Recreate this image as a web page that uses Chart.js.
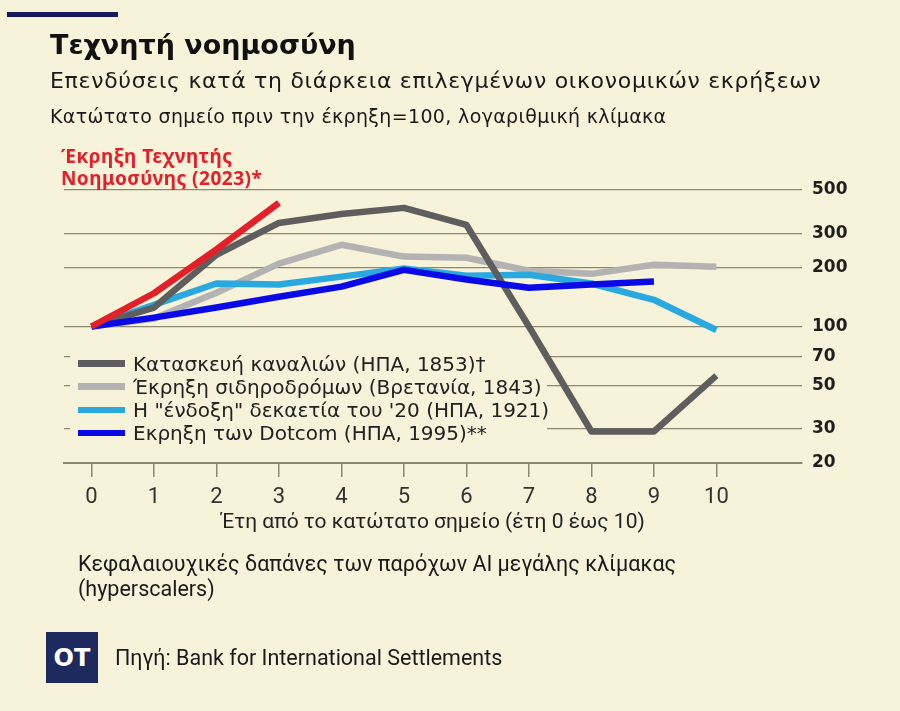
<!DOCTYPE html>
<html><head><meta charset="utf-8">
<script src="https://cdn.jsdelivr.net/npm/chart.js@4.4.1/dist/chart.umd.min.js"></script>
<style>
html,body{margin:0;padding:0;background:#f6f3da;}
#wrap{position:relative;width:900px;height:711px;overflow:hidden;background:#f6f3da;}
#c{position:absolute;left:0;top:0;}
.t{position:absolute;white-space:nowrap;line-height:1;margin:0;}
#bar{position:absolute;left:7px;top:12px;width:111px;height:5px;background:#16195c;}
#title{left:50px;top:29px;font:bold 27px "DejaVu Sans";color:#111;}
#sub{left:50px;top:68px;font:22px "DejaVu Sans";letter-spacing:0.7px;color:#1a1a1a;}
#sub2{left:50px;top:105px;font:19px "DejaVu Sans";letter-spacing:0.35px;color:#1a1a1a;}
#ai{left:61px;top:145px;font:bold 19px "Noto Sans";letter-spacing:0.5px;color:#e3202a;line-height:22px;}
#legend{position:absolute;left:70px;top:346px;width:477px;height:100px;}
.row{position:absolute;left:0;height:23px;width:477px;}
.sw{position:absolute;left:8px;top:8.5px;width:47px;height:6.5px;}
.lt{position:absolute;left:63px;top:0;line-height:23px;font:20px "DejaVu Sans";color:#222;white-space:nowrap;}
#foot{left:78px;top:551px;font:21.5px Roboto;color:#1a1a1a;line-height:25px;}
#logo{position:absolute;left:46px;top:632px;width:52px;height:51px;background:#1d2a5e;color:#fff;font:bold 24px "DejaVu Sans";display:flex;align-items:center;justify-content:center;}
#src{left:115px;top:645px;font:21.5px Roboto;color:#1a1a1a;}
</style>
</head>
<body>
<div id="wrap">
  <canvas id="c" width="900" height="711"></canvas>
  <div id="bar"></div>
  <div class="t" id="title">Τεχνητή νοημοσύνη</div>
  <div class="t" id="sub">Επενδύσεις κατά τη διάρκεια επιλεγμένων οικονομικών εκρήξεων</div>
  <div class="t" id="sub2">Κατώτατο σημείο πριν την έκρηξη=100, λογαριθμική κλίμακα</div>
  <div class="t" id="ai">Έκρηξη Τεχνητής<br>Νοημοσύνης (2023)*</div>
  <div id="legend"></div>
  <div class="t" id="foot">Κεφαλαιουχικές δαπάνες των παρόχων AI μεγάλης κλίμακας<br>(hyperscalers)</div>
  <div id="logo">OT</div>
  <div class="t" id="src">Πηγή: Bank for International Settlements</div>
</div>
<script>
// ---- data ----
const years = [0, 1, 2, 3, 4, 5, 6, 7, 8, 9, 10];
const aiBoom     = [100, 148, 248, 430];
const canals     = [100, 125, 233, 339, 377, 405, 331, 100, 29, 29, 56];
const railways   = [100, 110, 149, 210, 262, 228, 225, 193, 186, 207, 202];
const roaring20s = [100, 129, 166, 164, 180, 198, 182, 184, 166, 137, 96];
const dotcom     = [100, 111, 125, 142, 160, 195, 174, 158, 164, 170];
const yTicks = [20, 30, 50, 70, 100, 200, 300, 500];
const xTicks = years;
const aiLabel = 'Έκρηξη Τεχνητής Νοημοσύνης (2023)*';
const seriesNames = [
  'Κατασκευή καναλιών (ΗΠΑ, 1853)†',
  'Έκρηξη σιδηροδρόμων (Βρετανία, 1843)',
  'Η "ένδοξη" δεκαετία του \'20 (ΗΠΑ, 1921)',
  'Εκρηξη των Dotcom (ΗΠΑ, 1995)**'
];
const xTitle = 'Έτη από το κατώτατο σημείο (έτη 0 έως 10)';

// ---- styles ----
const seriesColors = ['#5e5e5e', '#b3b3b3', '#2aa9e0', '#0a0ae6'];
const aiColor = '#e3202a';
const gridColor = '#8c8970';
const bgColor = '#f6f3da';

const pts = vals => vals.map((v, i) => ({x: years[i], y: v}));
const lineStyle = {borderWidth: 6.5, pointRadius: 0, tension: 0, fill: false, borderCapStyle: 'butt', borderJoinStyle: 'round'};
const datasets = [
  {label: aiLabel, data: pts(aiBoom), borderColor: aiColor},
  {label: seriesNames[3], data: pts(dotcom), borderColor: seriesColors[3]},
  {label: seriesNames[0], data: pts(canals), borderColor: seriesColors[0]},
  {label: seriesNames[2], data: pts(roaring20s), borderColor: seriesColors[2]},
  {label: seriesNames[1], data: pts(railways), borderColor: seriesColors[1]}
].map(d => Object.assign(d, lineStyle));

// legend backing box: hides the gridlines behind the legend, lines stay on top
const legendBox = {
  id: 'legendBox',
  beforeDatasetsDraw(chart) {
    const el = document.getElementById('legend');
    const ctx = chart.ctx;
    ctx.save();
    ctx.fillStyle = bgColor;
    ctx.fillRect(el.offsetLeft, el.offsetTop, el.offsetWidth, el.offsetHeight);
    ctx.restore();
  }
};

new Chart(document.getElementById('c'), {
  type: 'line',
  data: {datasets},
  plugins: [legendBox],
  options: {
    responsive: false, animation: false, devicePixelRatio: 1,
    layout: {padding: {left: 64, top: 190, right: 0, bottom: 176}},
    plugins: {legend: {display: false}, tooltip: {enabled: false}},
    scales: {
      x: {
        type: 'linear', min: -0.44, max: 11.37,
        afterBuildTicks: s => { s.ticks = xTicks.map(v => ({value: v})); },
        afterFit: s => { s.height = 72; },
        grid: {drawOnChartArea: false, drawTicks: true, tickLength: 14, color: gridColor, lineWidth: 1.5},
        border: {display: true, color: gridColor, width: 2},
        ticks: {padding: 7, color: '#333', font: {family: 'Roboto', size: 22}, maxRotation: 0, autoSkip: false},
        title: {display: true, text: xTitle, color: '#222', font: {family: 'Roboto', size: 21}, padding: 0}
      },
      y: {
        type: 'logarithmic', position: 'right', min: 20, max: 500,
        afterBuildTicks: s => { s.ticks = yTicks.map(v => ({value: v})); },
        afterFit: s => { s.width = 98; },
        grid: {color: gridColor, lineWidth: 1.3, drawTicks: false},
        border: {display: false},
        ticks: {padding: 10, color: '#1e1e1e', font: {family: 'DejaVu Sans', size: 17, weight: 'bold'}, callback: v => String(v)}
      }
    }
  }
});

// legend entries (HTML text over the plot, like the original)
const leg = document.getElementById('legend');
seriesNames.forEach((name, i) => {
  const row = document.createElement('div');
  row.className = 'row';
  row.style.top = (5.5 + i * 23.3) + 'px';
  const sw = document.createElement('div');
  sw.className = 'sw';
  sw.style.background = seriesColors[i];
  const tx = document.createElement('div');
  tx.className = 'lt';
  tx.textContent = name;
  row.appendChild(sw); row.appendChild(tx);
  leg.appendChild(row);
});
</script>
</body></html>
